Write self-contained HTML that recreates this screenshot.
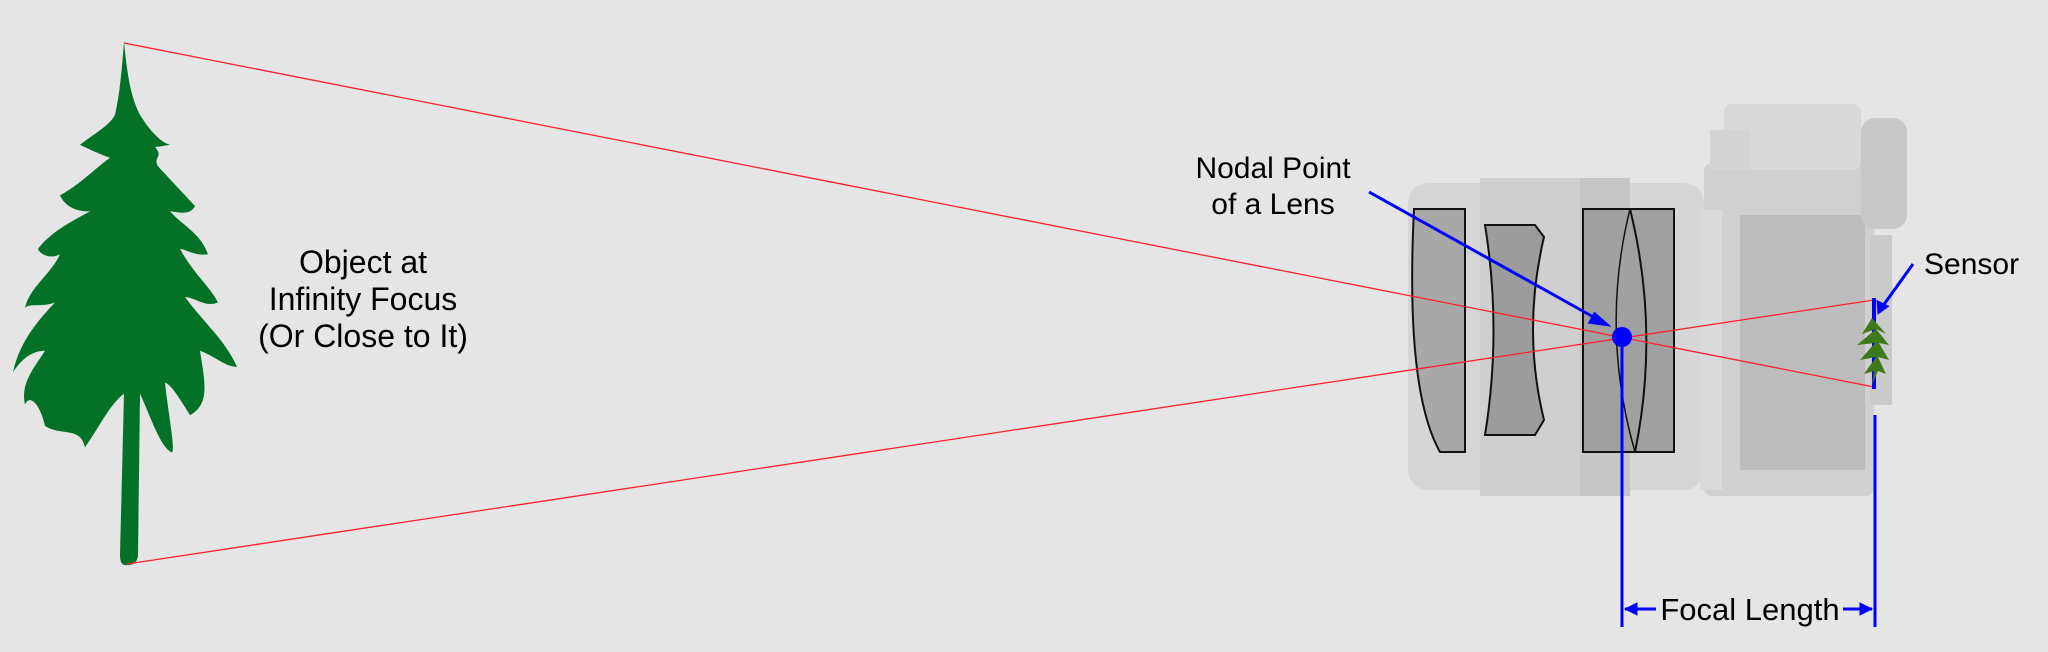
<!DOCTYPE html>
<html><head><meta charset="utf-8"><style>
html,body{margin:0;padding:0;background:#e5e5e5;}
svg{display:block;}
text{font-family:"Liberation Sans",sans-serif;fill:#000;}
</style></head><body>
<svg width="2048" height="652" viewBox="0 0 2048 652">
<rect width="2048" height="652" fill="#e5e5e5"/>
<g fill="#037227" transform="translate(0,-3) scale(1,1.072)">
<path d="M124,42 C128,80 132,95 140,110 C150,125 160,135 170,138 L155,140 C165,150 150,150 160,160 C175,175 185,185 195,195 C190,205 175,200 170,200 C185,215 200,220 208,240 C195,242 185,235 180,235 C195,260 210,270 218,285 C205,290 195,280 185,280 C205,305 225,320 237,345 C225,345 215,335 200,330 C205,360 210,380 190,390 C180,375 170,360 165,360 C170,400 175,420 172,425 C160,420 150,390 140,370 L138,520 C138,528 132,530 127,530 C122,530 120,528 120,520 L124,370 C110,380 100,400 85,420 C80,400 60,410 45,400 C40,380 30,370 25,380 C20,360 35,345 45,330 C30,330 20,340 13,350 C20,320 40,300 55,285 C40,290 30,285 25,290 C30,270 50,260 60,240 C50,245 40,240 38,235 C50,220 70,210 90,200 C75,200 65,195 60,185 C80,175 95,160 110,150 C95,145 85,140 80,138 C90,130 110,120 115,110 C120,90 122,65 124,42 Z"/>
</g>
<g font-size="32" text-anchor="middle">
<text x="363" y="273">Object at</text>
<text x="363" y="310">Infinity Focus</text>
<text x="363" y="347">(Or Close to It)</text>
</g>
<g>
<rect x="1408" y="183" width="296" height="307" rx="20" fill="#d6d6d6"/>
<rect x="1480" y="178" width="140" height="318" fill="#cfcfcf"/>
<rect x="1580" y="178" width="50" height="318" fill="#c6c6c6"/>
<rect x="1704" y="163" width="170" height="333" rx="8" fill="#d0d0d0"/>
<rect x="1700" y="210" width="22" height="280" fill="#dadada"/>
<rect x="1740" y="215" width="125" height="255" fill="#bcbcbc"/>
<rect x="1724" y="104" width="137" height="66" rx="8" fill="#d8d8d8"/>
<rect x="1710" y="130" width="40" height="40" fill="#d4d4d4"/>
<rect x="1861" y="118" width="46" height="111" rx="14" fill="#c8c8c8"/>
<rect x="1870" y="235" width="22" height="170" fill="#cacaca"/>
<path d="M1414,209 L1465,209 L1465,452 L1440,452 Q1405,390 1414,209 Z" fill="#a8a8a8" stroke="#111" stroke-width="2"/>
<path d="M1485,225 L1535,225 L1544,237 Q1522,330 1544,420 L1535,435 L1485,435 Q1502,330 1485,225 Z" fill="#9c9c9c" stroke="#111" stroke-width="2"/>
<path d="M1583,209 L1674,209 L1674,452 L1583,452 Z" fill="#a0a0a0" stroke="#111" stroke-width="2"/>
<path d="M1630,209 Q1660,330 1635,452" fill="none" stroke="#111" stroke-width="2"/>
<path d="M1630,209 Q1600,330 1635,452" fill="none" stroke="#111" stroke-width="1.5"/>
</g>
<g stroke="#ff1f2f" stroke-width="1.3" fill="none">
<line x1="124" y1="43" x2="1874" y2="387"/>
<line x1="127" y1="564" x2="1874" y2="300"/>
</g>
<line x1="1874" y1="298" x2="1874" y2="389" stroke="#0000ff" stroke-width="4"/>
<path d="M1872,318 L1862,334 L1876,329 L1857,345 L1875,343 L1860,360 L1876,357 L1864,374 L1874,371 L1872,385 L1878,371 L1886,374 L1878,357 L1889,360 L1879,343 L1889,345 L1876,329 L1886,334 Z" fill="#3f7a1a"/>
<circle cx="1622" cy="337" r="10" fill="#0000ff"/>
<g font-size="30" text-anchor="middle">
<text x="1273" y="178">Nodal Point</text>
<text x="1273" y="214">of a Lens</text>
</g>
<g stroke="#0000ff" stroke-width="3" fill="none">
<line x1="1369" y1="192" x2="1606" y2="324"/>
<path d="M1594,312 L1610,326 L1588,323" fill="#0000ff" stroke-width="1"/>
</g>
<text x="1924" y="274" font-size="30">Sensor</text>
<g stroke="#0000ff" stroke-width="3" fill="none">
<line x1="1913" y1="264" x2="1880" y2="310"/>
<path d="M1877,300 L1878,314 L1889,306" fill="#0000ff" stroke-width="1"/>
</g>
<g stroke="#0000ff" stroke-width="3">
<line x1="1622" y1="347" x2="1622" y2="627"/>
<line x1="1875" y1="415" x2="1875" y2="627"/>
<line x1="1625" y1="609" x2="1656" y2="609"/>
<line x1="1843" y1="609" x2="1872" y2="609"/>
<path d="M1625,609 L1637,603 L1637,615 Z" fill="#0000ff" stroke-width="1"/>
<path d="M1872,609 L1860,603 L1860,615 Z" fill="#0000ff" stroke-width="1"/>
</g>
<text x="1750" y="620" font-size="31" text-anchor="middle">Focal Length</text>
</svg>
</body></html>
